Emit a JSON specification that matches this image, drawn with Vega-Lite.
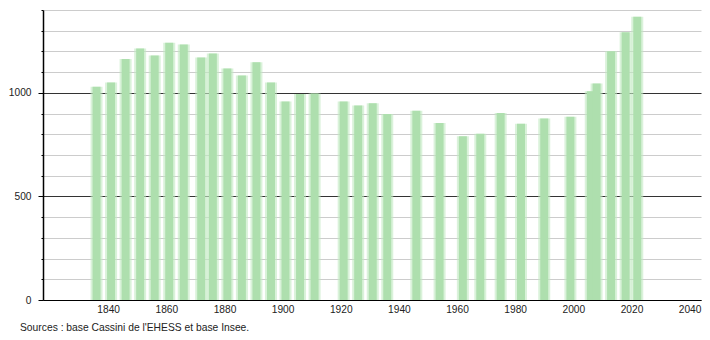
{
  "$schema": "https://vega.github.io/schema/vega-lite/v6.json",
  "autosize": "none",
  "padding": {"left": 43, "top": 10, "right": 9, "bottom": 40},
  "width": 658,
  "height": 290,
  "background": "white",
  "config": {
    "view": {"stroke": null},
    "font": "Liberation Sans",
    "axis": {"labelFont": "Liberation Sans", "labelFontSize": 10.2, "labelColor": "#222", "domainColor": "#000", "tickColor": "#000", "title": null}
  },
  "title": {
    "text": "Sources : base Cassini de l'EHESS et base Insee.",
    "orient": "bottom",
    "anchor": "start",
    "frame": "group",
    "dx": -23,
    "offset": 9,
    "fontSize": 10.3,
    "fontWeight": "normal",
    "color": "#222",
    "font": "Liberation Sans"
  },
  "data": {
    "values": [
      {"year": 1836, "pop": 1029},
      {"year": 1841, "pop": 1050},
      {"year": 1846, "pop": 1163},
      {"year": 1851, "pop": 1214},
      {"year": 1856, "pop": 1180},
      {"year": 1861, "pop": 1242},
      {"year": 1866, "pop": 1234},
      {"year": 1872, "pop": 1171},
      {"year": 1876, "pop": 1190},
      {"year": 1881, "pop": 1118},
      {"year": 1886, "pop": 1084},
      {"year": 1891, "pop": 1148},
      {"year": 1896, "pop": 1050},
      {"year": 1901, "pop": 958},
      {"year": 1906, "pop": 995},
      {"year": 1911, "pop": 997},
      {"year": 1921, "pop": 958},
      {"year": 1926, "pop": 939},
      {"year": 1931, "pop": 950},
      {"year": 1936, "pop": 898},
      {"year": 1946, "pop": 914},
      {"year": 1954, "pop": 855},
      {"year": 1962, "pop": 791},
      {"year": 1968, "pop": 803},
      {"year": 1975, "pop": 903},
      {"year": 1982, "pop": 851},
      {"year": 1990, "pop": 876},
      {"year": 1999, "pop": 885},
      {"year": 2006, "pop": 1008},
      {"year": 2008, "pop": 1045},
      {"year": 2013, "pop": 1201},
      {"year": 2018, "pop": 1292},
      {"year": 2022, "pop": 1368}
    ]
  },
  "encoding": {
    "x": {
      "field": "year",
      "type": "quantitative",
      "scale": {"domain": [1819.3, 2042.2], "nice": false, "zero": false},
      "axis": {
        "values": [1840, 1860, 1880, 1900, 1920, 1940, 1960, 1980, 2000, 2020, 2040],
        "format": "d",
        "ticks": false,
        "grid": false,
        "labelPadding": 4,
        "domainWidth": 1
      }
    },
    "y": {
      "field": "pop",
      "type": "quantitative",
      "scale": {"domain": [0, 1400], "nice": false},
      "axis": {
        "values": [0, 100, 200, 300, 400, 500, 600, 700, 800, 900, 1000, 1100, 1200, 1300, 1400],
        "labelExpr": "datum.value % 500 === 0 ? datum.label : ''",
        "format": "d",
        "grid": true,
        "gridColor": {"condition": {"test": "datum.value % 500 === 0", "value": "#333333"}, "value": "#cccccc"},
        "gridOpacity": 1,
        "tickSize": {"condition": {"test": "datum.value % 500 === 0", "value": 5}, "value": 2},
        "labelPadding": 7,
        "domainWidth": 1.5
      }
    }
  },
  "layer": [
    {"mark": {"type": "bar", "width": 12, "color": "#c2eac2", "opacity": 0.6}},
    {"mark": {"type": "bar", "width": 8, "color": "#aedfae"}}
  ]
}
